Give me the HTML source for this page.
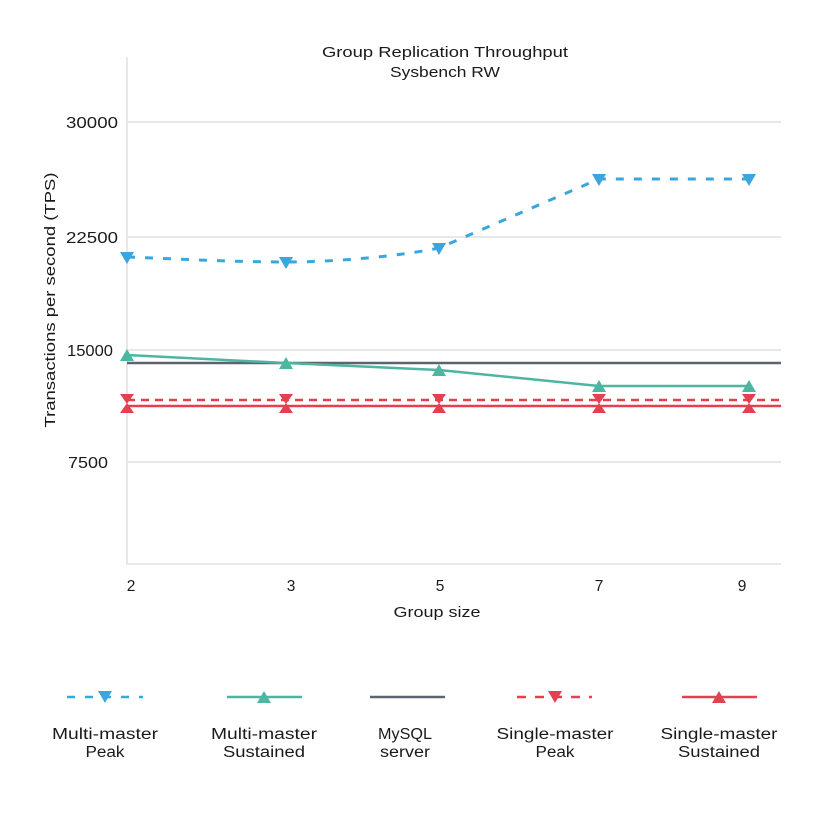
<!DOCTYPE html>
<html>
<head>
<meta charset="utf-8">
<style>
  html, body { margin:0; padding:0; background:#ffffff; }
  svg { display:block; }
  text { font-family: "Liberation Sans", "DejaVu Sans", sans-serif; fill:#1a1a1a; }
</style>
</head>
<body>
<svg width="820" height="820" viewBox="0 0 820 820" xmlns="http://www.w3.org/2000/svg">
  <rect width="820" height="820" fill="#ffffff"/>

  <!-- Title -->
  <text x="445" y="57" font-size="14.5" text-anchor="middle" textLength="246" lengthAdjust="spacingAndGlyphs">Group Replication Throughput</text>
  <text x="445" y="77" font-size="14.5" text-anchor="middle" textLength="110" lengthAdjust="spacingAndGlyphs">Sysbench RW</text>

  <!-- Gridlines -->
  <g stroke="#e8e8e8" stroke-width="2" fill="none">
    <line x1="127" y1="122" x2="781" y2="122"/>
    <line x1="127" y1="237" x2="781" y2="237"/>
    <line x1="127" y1="350" x2="781" y2="350"/>
    <line x1="127" y1="462" x2="781" y2="462"/>
    <line x1="127" y1="57" x2="127" y2="564"/>
    <line x1="126" y1="564" x2="781" y2="564"/>
  </g>

  <!-- Y tick labels -->
  <text x="66" y="128" font-size="16" textLength="52" lengthAdjust="spacingAndGlyphs">30000</text>
  <text x="66" y="243" font-size="16" textLength="52" lengthAdjust="spacingAndGlyphs">22500</text>
  <text x="67" y="356" font-size="16" textLength="46" lengthAdjust="spacingAndGlyphs">15000</text>
  <text x="68" y="468" font-size="16" textLength="40" lengthAdjust="spacingAndGlyphs">7500</text>

  <!-- Y axis title -->
  <text transform="translate(55,300) rotate(-90)" font-size="15" text-anchor="middle" textLength="255" lengthAdjust="spacingAndGlyphs">Transactions per second (TPS)</text>

  <!-- X tick labels -->
  <g font-size="15.5" text-anchor="middle">
    <text x="131" y="591">2</text>
    <text x="291" y="591">3</text>
    <text x="440" y="591">5</text>
    <text x="599" y="591">7</text>
    <text x="742" y="591">9</text>
  </g>
  <text x="437" y="617" font-size="15" text-anchor="middle" textLength="87" lengthAdjust="spacingAndGlyphs">Group size</text>

  <!-- MySQL server -->
  <line x1="127" y1="363" x2="781" y2="363" stroke="#5b6470" stroke-width="2.5"/>

  <!-- Single-master Sustained -->
  <line x1="127" y1="406" x2="781" y2="406" stroke="#e5404f" stroke-width="2.5"/>
  <!-- Single-master Peak -->
  <line x1="127" y1="400" x2="781" y2="400" stroke="#e5404f" stroke-width="2.5" stroke-dasharray="8,6"/>

  <!-- Multi-master Sustained -->
  <path d="M127,355 L286,363 L439,370 L599,386 L749,386" fill="none" stroke="#4db6a0" stroke-width="2.5" stroke-linejoin="round"/>

  <!-- Multi-master Peak -->
  <path d="M127,257 C180,259 233,262 286,262 C337,262 400,256 439,248 L599,179 L749,179" fill="none" stroke="#3aa6dd" stroke-width="3" stroke-dasharray="8,10"/>

  <!-- Markers: Multi-master Peak (down triangles) -->
  <g fill="#3aa6dd">
    <polygon points="120,252 134,252 127,264"/>
    <polygon points="279,257 293,257 286,269"/>
    <polygon points="432,243 446,243 439,255"/>
    <polygon points="592,174 606,174 599,186"/>
    <polygon points="742,174 756,174 749,186"/>
  </g>

  <!-- Markers: Multi-master Sustained (up triangles) -->
  <g fill="#4db6a0">
    <polygon points="120,361 134,361 127,349"/>
    <polygon points="279,369 293,369 286,357"/>
    <polygon points="432,376 446,376 439,364"/>
    <polygon points="592,392 606,392 599,380"/>
    <polygon points="742,392 756,392 749,380"/>
  </g>

  <!-- Markers: Single-master Peak (down) & Sustained (up) -->
  <g fill="#e5404f">
    <polygon points="120,394 134,394 127,404"/>
    <polygon points="120,413 134,413 127,403"/>
    <polygon points="279,394 293,394 286,404"/>
    <polygon points="279,413 293,413 286,403"/>
    <polygon points="432,394 446,394 439,404"/>
    <polygon points="432,413 446,413 439,403"/>
    <polygon points="592,394 606,394 599,404"/>
    <polygon points="592,413 606,413 599,403"/>
    <polygon points="742,394 756,394 749,404"/>
    <polygon points="742,413 756,413 749,403"/>
  </g>

  <!-- Legend -->
  <line x1="67" y1="697" x2="143" y2="697" stroke="#3aa6dd" stroke-width="2.5" stroke-dasharray="8,10"/>
  <polygon points="98,691 112,691 105,703" fill="#3aa6dd"/>

  <line x1="227" y1="697" x2="302" y2="697" stroke="#4db6a0" stroke-width="2.5"/>
  <polygon points="257,703 271,703 264,691" fill="#4db6a0"/>

  <line x1="370" y1="697" x2="445" y2="697" stroke="#5b6470" stroke-width="2.5"/>

  <line x1="517" y1="697" x2="592" y2="697" stroke="#e5404f" stroke-width="2.5" stroke-dasharray="9,9"/>
  <polygon points="548,691 562,691 555,703" fill="#e5404f"/>

  <line x1="682" y1="697" x2="757" y2="697" stroke="#e5404f" stroke-width="2.5"/>
  <polygon points="712,703 726,703 719,691" fill="#e5404f"/>

  <g font-size="15.5" text-anchor="middle">
    <text x="105" y="739" textLength="106" lengthAdjust="spacingAndGlyphs">Multi-master</text>
    <text x="105" y="757" textLength="39" lengthAdjust="spacingAndGlyphs">Peak</text>

    <text x="264" y="739" textLength="106" lengthAdjust="spacingAndGlyphs">Multi-master</text>
    <text x="264" y="757" textLength="82" lengthAdjust="spacingAndGlyphs">Sustained</text>

    <text x="405" y="739" textLength="54" lengthAdjust="spacingAndGlyphs">MySQL</text>
    <text x="405" y="757" textLength="50" lengthAdjust="spacingAndGlyphs">server</text>

    <text x="555" y="739" textLength="117" lengthAdjust="spacingAndGlyphs">Single-master</text>
    <text x="555" y="757" textLength="39" lengthAdjust="spacingAndGlyphs">Peak</text>

    <text x="719" y="739" textLength="117" lengthAdjust="spacingAndGlyphs">Single-master</text>
    <text x="719" y="757" textLength="82" lengthAdjust="spacingAndGlyphs">Sustained</text>
  </g>
</svg>
</body>
</html>
